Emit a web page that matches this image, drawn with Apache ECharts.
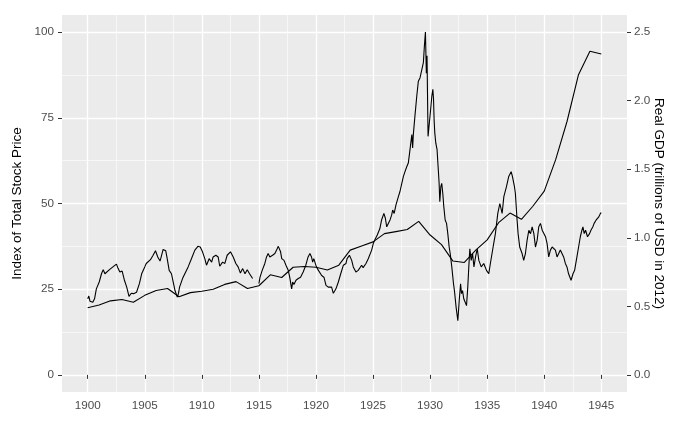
<!DOCTYPE html>
<html>
<head>
<meta charset="utf-8">
<script src="https://cdn.jsdelivr.net/npm/echarts@6.0.0/dist/echarts.min.js"></script>
<style>
html,body{margin:0;padding:0;background:#fff;}
#chart{width:700px;height:432px;}
</style>
</head>
<body>
<div id="chart"></div>
<script>
// ---- data ----
const stockYears = [
1900.00,1900.10,1900.20,1900.45,1900.60,1900.76,1901.01,1901.21,1901.36,1901.51,1901.61,1901.91,
1902.21,1902.52,1902.67,1902.82,1903.02,1903.22,1903.42,1903.62,1903.82,1904.02,1904.28,1904.53,
1904.73,1905.00,1905.13,1905.29,1905.50,1905.73,1905.94,1906.14,1906.34,1906.44,1906.61,1906.84,
1906.94,1907.14,1907.34,1907.49,1907.65,1907.85,1907.95,1908.05,1908.31,1908.51,1908.80,1909.09,
1909.39,1909.66,1909.86,1910.06,1910.26,1910.41,1910.64,1910.86,1910.99,1911.23,1911.43,1911.57,
1911.82,1912.02,1912.22,1912.51,1912.75,1912.98,1913.18,1913.38,1913.58,1913.78,1913.98,1914.18,
1914.45,1914.70,
1915.00,1915.10,1915.29,1915.52,1915.67,1915.81,1915.96,1916.20,1916.40,1916.55,1916.70,1916.78,
1916.90,1917.00,1917.20,1917.37,1917.57,1917.70,1917.87,1917.96,1918.07,1918.25,1918.45,1918.65,
1918.88,1919.11,1919.31,1919.47,1919.61,1919.71,1919.81,1919.99,1920.12,1920.29,1920.50,1920.70,
1920.88,1921.08,1921.22,1921.37,1921.52,1921.75,1921.96,1922.17,1922.40,1922.63,1922.73,1922.93,
1923.13,1923.27,1923.50,1923.70,1924.00,1924.13,1924.38,1924.58,1924.74,1924.88,1925.02,1925.14,
1925.37,1925.60,1925.75,1925.95,1926.08,1926.20,1926.35,1926.49,1926.63,1926.72,1926.85,1927.01,
1927.22,1927.36,1927.52,1927.66,1927.80,1927.96,1928.09,1928.21,1928.40,1928.47,1928.53,1928.67,
1928.83,1928.97,1929.12,1929.27,1929.41,1929.50,1929.59,1929.67,1929.73,1929.82,1929.88,1930.02,
1930.15,1930.24,1930.30,1930.35,1930.41,1930.50,1930.61,1930.70,1930.79,1930.85,1930.94,1931.02,
1931.11,1931.20,1931.32,1931.44,1931.55,1931.67,1931.76,1931.90,1932.05,1932.13,1932.28,1932.43,
1932.55,1932.67,1932.75,1932.84,1932.95,1933.19,1933.30,1933.39,1933.48,1933.60,1933.72,1933.84,
1933.98,1934.13,1934.27,1934.48,1934.70,1934.94,1935.14,1935.28,1935.52,1935.72,1935.93,1936.11,
1936.31,1936.46,1936.69,1936.89,1937.10,1937.21,1937.39,1937.47,1937.56,1937.62,1937.71,1937.85,
1938.06,1938.20,1938.35,1938.50,1938.65,1938.80,1938.94,1939.09,1939.23,1939.38,1939.52,1939.67,
1939.82,1939.96,1940.11,1940.25,1940.39,1940.54,1940.69,1940.83,1940.98,1941.12,1941.26,1941.41,
1941.56,1941.70,1941.85,1941.99,1942.13,1942.35,1942.52,1942.66,1942.81,1943.01,1943.16,1943.30,
1943.39,1943.50,1943.62,1943.79,1943.97,1944.09,1944.26,1944.37,1944.55,1944.66,1944.78,1944.95,
1945.00
];
const stockValues = [
22.2,23.0,21.5,21.2,22.2,25.1,27.1,29.5,30.7,29.5,30.0,30.7,
31.5,32.3,31.0,30.0,30.3,27.6,25.6,22.9,23.8,23.7,24.1,26.6,
29.5,31.5,32.5,32.0,33.6,34.9,36.2,34.4,33.2,34.4,36.6,36.2,
34.4,30.5,29.5,27.1,24.6,22.7,23.7,25.6,28.1,29.5,31.5,33.9,
36.4,37.5,37.3,35.9,33.9,32.0,33.9,32.9,34.4,34.9,34.4,31.7,
32.9,32.5,34.9,35.9,34.4,32.5,31.5,29.7,31.0,29.5,30.7,29.5,
28.1,null,
26.6,28.5,30.5,32.5,34.4,35.4,34.4,34.9,35.4,36.4,37.5,37.8,
35.9,33.9,33.4,32.0,30.5,28.5,25.1,27.1,26.4,27.6,28.1,28.5,
30.0,32.0,34.4,35.4,34.4,32.9,33.9,32.0,31.0,31.5,29.0,28.5,
26.1,25.6,25.1,25.6,23.8,25.1,27.1,29.5,32.0,32.5,33.9,34.9,
33.4,31.5,30.0,30.5,32.0,31.3,32.5,33.9,34.4,36.4,38.3,39.3,
40.8,42.7,45.2,47.1,45.7,43.2,42.7,45.2,46.6,48.1,47.1,49.6,
52.0,53.5,55.9,57.9,59.3,60.8,61.8,65.0,70.1,66.2,70.1,75.5,
81.3,85.7,86.7,87.2,91.1,96.0,100.0,88.0,93.1,69.6,71.6,76.5,
81.3,83.3,80.4,74.5,70.6,67.6,65.7,60.8,55.9,50.5,54.9,55.9,
53.0,49.1,45.2,44.2,41.2,37.3,35.4,31.5,26.6,24.6,19.7,15.8,
21.7,26.6,23.7,24.6,22.2,20.2,25.6,31.5,36.8,33.4,35.4,31.5,
34.4,36.8,33.4,31.5,32.5,30.5,29.5,32.5,37.3,41.2,47.1,50.0,
47.1,52.0,54.9,57.9,59.3,57.9,54.9,53.0,53.0,45.2,41.2,37.3,
35.4,33.4,35.4,39.3,42.2,41.2,43.2,41.2,37.3,39.3,43.2,44.2,
42.2,42.2,40.3,38.3,34.4,36.4,37.3,37.3,36.4,34.4,33.9,36.4,
36.4,34.4,32.5,31.5,29.5,27.6,29.5,30.5,33.4,37.3,40.3,42.2,
43.2,41.2,42.2,40.3,41.2,42.2,43.2,44.2,45.2,45.2,46.1,47.3,
47.1
];
const gdpYears = [1900,1901,1902,1903,1904,1905,1906,1907,1908,1909,1910,1911,1912,1913,1914,1915,
1916,1917,1918,1919,1920,1921,1922,1923,1924,1925,1926,1927,1928,1929,1930,1931,1932,1933,1934,1935,
1936,1937,1938,1939,1940,1941,1942,1943,1944,1945];
const gdpValues = [0.49,0.51,0.54,0.55,0.53,0.58,0.615,0.63,0.57,0.60,0.61,0.625,0.66,0.68,0.63,0.65,
0.73,0.71,0.785,0.79,0.785,0.765,0.80,0.91,0.94,0.97,1.03,1.045,1.06,1.12,1.02,0.95,0.83,0.82,0.91,0.985,
1.11,1.18,1.135,1.23,1.34,1.57,1.85,2.19,2.36,2.34];
const xTicks = [1900,1905,1910,1915,1920,1925,1930,1935,1940,1945];
const xMinorTicks = [1897.5,1902.5,1907.5,1912.5,1917.5,1922.5,1927.5,1932.5,1937.5,1942.5,1947.5];
const yLeftTicks = [0,25,50,75,100];
const yMinorTicks = [12.5,37.5,62.5,87.5];
const yRightTicks = [0,0.5,1,1.5,2,2.5];

const stockData = stockYears.map((x,i)=>[x, stockValues[i]===null ? '-' : stockValues[i]]);
const gdpData = gdpYears.map((x,i)=>[x, gdpValues[i]]);

const FONT = '"Liberation Sans", Arial, sans-serif';
const chart = echarts.init(document.getElementById('chart'), null, {renderer:'canvas'});
const hidden = {show:false};
chart.setOption({
  animation:false,
  backgroundColor:'#ffffff',
  textStyle:{fontFamily:FONT},
  grid:{left:62, right:73, top:15, bottom:40, show:true, backgroundColor:'#EBEBEB', borderWidth:0},
  xAxis:[
    {type:'value', min:1897.75, max:1947.25, position:'bottom',
     axisLine:hidden,
     axisTick:{show:true, length:4, customValues:xTicks, lineStyle:{color:'#333333', width:1}},
     axisLabel:{customValues:xTicks, color:'#4D4D4D', fontSize:11.7, margin:8, fontFamily:FONT,
       formatter:(v)=>String(Math.round(v))},
     splitLine:{show:true, lineStyle:{color:'#ffffff', width:1.3}}},
    {type:'value', min:1897.75, max:1947.25, position:'top',
     axisLine:hidden, axisLabel:{show:false},
     axisTick:{show:false, customValues:xMinorTicks},
     splitLine:{show:true, lineStyle:{color:'#ffffff', width:0.6}}}
  ],
  yAxis:[
    {type:'value', min:-5, max:105, position:'left',
     name:'Index of Total Stock Price', nameLocation:'middle', nameGap:38, nameRotate:90,
     nameMoveOverlap:false,
     nameTextStyle:{color:'#000', fontSize:13.5, fontFamily:FONT},
     axisLine:hidden,
     axisTick:{show:true, length:4, customValues:yLeftTicks, lineStyle:{color:'#333333', width:1}},
     axisLabel:{customValues:yLeftTicks, color:'#4D4D4D', fontSize:11.7, margin:8, fontFamily:FONT},
     splitLine:{show:true, lineStyle:{color:'#ffffff', width:1.3}}},
    {type:'value', min:-0.125, max:2.625, position:'right',
     name:'Real GDP (trillions of USD in 2012)', nameLocation:'middle', nameGap:25, nameRotate:-90,
     nameMoveOverlap:false,
     nameTextStyle:{color:'#000', fontSize:13.5, fontFamily:FONT},
     axisLine:hidden,
     axisTick:{show:true, length:4, customValues:yRightTicks, lineStyle:{color:'#333333', width:1}},
     axisLabel:{customValues:yRightTicks, color:'#4D4D4D', fontSize:11.7, margin:7, fontFamily:FONT,
       formatter:(v)=>Number(v).toFixed(1)},
     splitLine:{show:false}},
    {type:'value', min:-5, max:105, position:'left', offset:0,
     axisLine:hidden, axisLabel:{show:false},
     axisTick:{show:false, customValues:yMinorTicks},
     splitLine:{show:true, lineStyle:{color:'#ffffff', width:0.6}}}
  ],
  series:[
    {type:'line', name:'Stock', xAxisIndex:0, yAxisIndex:0, data:stockData, showSymbol:false,
     connectNulls:false, lineStyle:{color:'#000', width:1.1}, itemStyle:{color:'#000'}, z:5},
    {type:'line', name:'GDP', xAxisIndex:0, yAxisIndex:1, data:gdpData, showSymbol:false,
     lineStyle:{color:'#000', width:1.1}, itemStyle:{color:'#000'}, z:5}
  ]
});
</script>
</body>
</html>
